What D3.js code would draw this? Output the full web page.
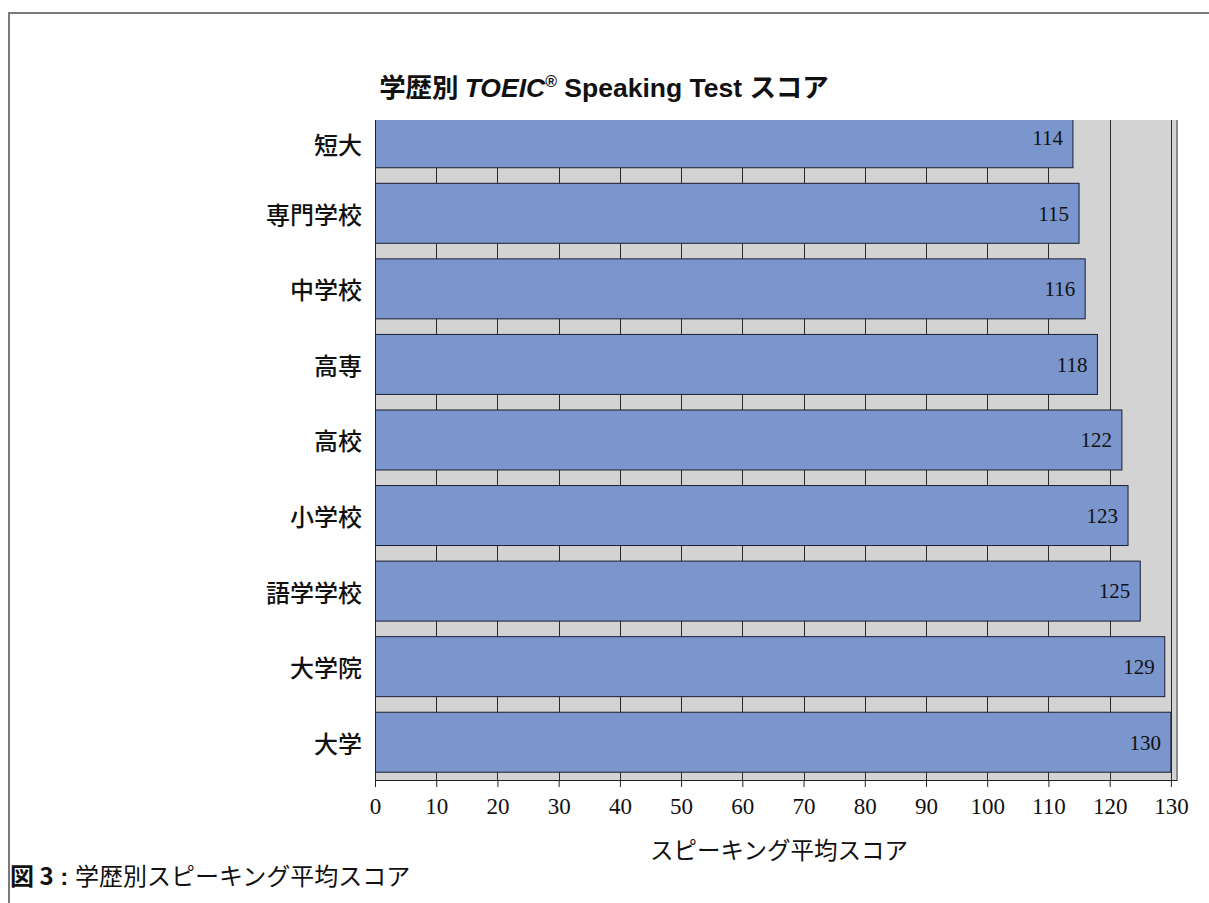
<!DOCTYPE html>
<html>
<head>
<meta charset="utf-8">
<script src="https://cdn.jsdelivr.net/npm/d3@7"></script>
<style>
  body { margin: 0; background: #fff; }
  svg { display: block; }
</style>
</head>
<body>
<script>
// data
var categories = ['短大', '専門学校', '中学校', '高専', '高校', '小学校', '語学学校', '大学院', '大学'];
var scores = [114, 115, 116, 118, 122, 123, 125, 129, 130];
var xTicks = [0, 10, 20, 30, 40, 50, 60, 70, 80, 90, 100, 110, 120, 130];

var width = 1209, height = 903;
var plot = {left: 375, right: 1177, top: 120, bottom: 780};

var svg = d3.select('body').append('svg')
  .attr('width', width)
  .attr('height', height);

// outer frame
svg.append('path')
  .attr('d', 'M9,' + (height + 5) + ' V13 H' + (width + 5))
  .attr('fill', 'none')
  .attr('stroke', '#7a7a7a')
  .attr('stroke-width', 2);

var x = d3.scaleLinear().domain([0, 131]).range([plot.left, plot.right]);

// bands run a little above the plot, first bar is cut by the top edge
var step = 75.56;
var y = d3.scaleBand()
  .domain(categories)
  .range([plot.bottom - categories.length * step, plot.bottom])
  .paddingInner(0.206)
  .paddingOuter(0.103);

svg.append('clipPath').attr('id', 'clip')
  .append('rect')
  .attr('x', plot.left).attr('y', plot.top)
  .attr('width', plot.right - plot.left).attr('height', plot.bottom - plot.top);

svg.append('rect')
  .attr('x', plot.left).attr('y', plot.top)
  .attr('width', plot.right - plot.left).attr('height', plot.bottom - plot.top)
  .attr('fill', '#d3d3d3');

var g = svg.append('g').attr('clip-path', 'url(#clip)');

g.selectAll('line.grid')
  .data(xTicks.slice(1))
  .enter()
  .append('line')
  .attr('class', 'grid')
  .attr('x1', function(d){ return Math.round(x(d)) + 0.5; })
  .attr('x2', function(d){ return Math.round(x(d)) + 0.5; })
  .attr('y1', plot.top)
  .attr('y2', plot.bottom)
  .attr('stroke', '#2a2a2a')
  .attr('stroke-width', 1);

g.selectAll('rect.bar')
  .data(scores)
  .enter()
  .append('rect')
  .attr('class', 'bar')
  .attr('x', x(0))
  .attr('y', function(d, i){ return y(categories[i]); })
  .attr('width', function(d){ return x(d) - x(0); })
  .attr('height', y.bandwidth())
  .attr('fill', '#7b96cc')
  .attr('stroke', '#1c1c33')
  .attr('stroke-width', 1);

g.selectAll('text.val')
  .data(scores)
  .enter()
  .append('text')
  .attr('class', 'val')
  .attr('x', function(d){ return x(d) - 10; })
  .attr('y', function(d, i){ return y(categories[i]) + y.bandwidth() / 2; })
  .attr('dy', '0.35em')
  .attr('text-anchor', 'end')
  .style('font-family', '"Liberation Serif", "DejaVu Serif", serif')
  .style('font-size', '21px')
  .style('fill', '#111')
  .text(function(d){ return d; });

// right border of the plot
svg.append('line')
  .attr('x1', plot.right).attr('x2', plot.right)
  .attr('y1', plot.top).attr('y2', plot.bottom + 1)
  .attr('stroke', '#8a8a8a').attr('stroke-width', 2);

// category labels, centred on the visible part of each bar
svg.selectAll('text.cat')
  .data(categories)
  .enter()
  .append('text')
  .attr('class', 'cat')
  .attr('x', 362)
  .attr('y', function(d){
    var y0 = Math.max(y(d), plot.top), y1 = y(d) + y.bandwidth();
    return (y0 + y1) / 2 + 2;
  })
  .attr('dy', '0.35em')
  .attr('text-anchor', 'end')
  .style('font-family', '"Noto Sans CJK JP", sans-serif')
  .style('font-size', '24px')
  .style('font-weight', 500)
  .style('fill', '#111')
  .text(function(d){ return d; });

// y axis line
svg.append('line')
  .attr('x1', plot.left + 0.5).attr('x2', plot.left + 0.5)
  .attr('y1', plot.top).attr('y2', plot.bottom + 7)
  .attr('stroke', '#222').attr('stroke-width', 1);

var xAxis = svg.append('g')
  .attr('transform', 'translate(0,' + plot.bottom + ')')
  .call(d3.axisBottom(x).tickValues(xTicks).tickSize(7).tickSizeOuter(0).tickPadding(11));

xAxis.select('.domain').attr('stroke', '#222').attr('d', 'M' + plot.left + ',0.5H' + plot.right);
xAxis.selectAll('.tick line').attr('stroke', '#222');
xAxis.selectAll('.tick text')
  .style('font-family', '"Liberation Serif", "DejaVu Serif", serif')
  .style('font-size', '23px')
  .style('fill', '#111');

// axis title
svg.append('text')
  .attr('x', 779).attr('y', 859)
  .attr('text-anchor', 'middle')
  .style('font-family', '"Noto Sans CJK JP", sans-serif')
  .style('font-size', '23.5px')
  .style('fill', '#111')
  .text('スピーキング平均スコア');

// title
var title = svg.append('text')
  .attr('x', 604).attr('y', 97)
  .attr('text-anchor', 'middle')
  .style('font-family', '"Liberation Sans", "Noto Sans CJK JP", sans-serif')
  .style('font-size', '26.5px')
  .style('font-weight', 'bold')
  .style('fill', '#111');
title.append('tspan').style('font-family', '"Noto Sans CJK JP", sans-serif').text('学歴別 ');
title.append('tspan').style('font-style', 'italic').text('TOEIC');
title.append('tspan').attr('dy', -10).style('font-size', '16px').text('®');
title.append('tspan').attr('dy', 10).text(' Speaking Test ');
title.append('tspan').style('font-family', '"Noto Sans CJK JP", sans-serif').text('スコア');

// caption
var cap = svg.append('text')
  .attr('x', 10).attr('y', 885)
  .style('font-family', '"Noto Sans CJK JP", sans-serif')
  .style('font-size', '24px')
  .style('fill', '#111');
cap.append('tspan').style('font-weight', 'bold').text('図 3');
cap.append('tspan').style('font-family', '"Liberation Sans", sans-serif').style('font-weight', 'bold').text(' : ');
cap.append('tspan').text('学歴別スピーキング平均スコア');
</script>
</body>
</html>
